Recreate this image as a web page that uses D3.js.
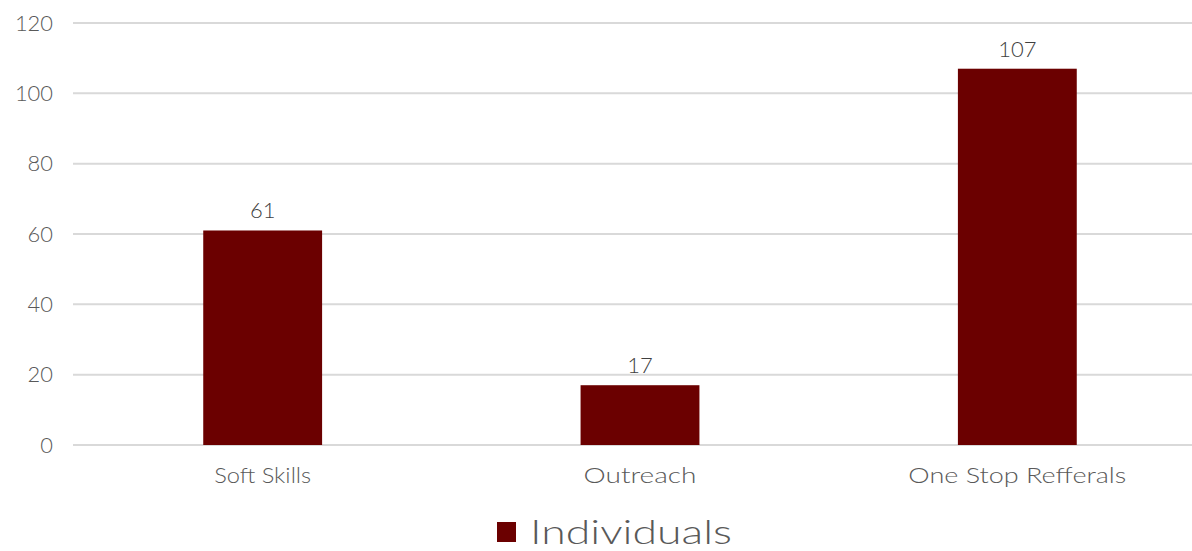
<!DOCTYPE html>
<html><head><meta charset="utf-8">
<script src="https://cdn.jsdelivr.net/npm/d3@7"></script>
<style>body{margin:0;background:#fff}svg{display:block}</style>
</head><body>
<svg id="c" width="1192" height="551"></svg>
<script>
const categories = ["Soft Skills", "Outreach", "One Stop Refferals"];
const values = [61, 17, 107];
const seriesName = "Individuals";
const yTicks = [0, 20, 40, 60, 80, 100, 120];

// layout: rendered widths of the category labels (to mimic the wide geometric face)
const catLabelWidths = [97, 113, 218];
const legendLabelWidth = 202;

const svg = d3.select("#c");
const font = "Lato, 'Open Sans', sans-serif";
const textColor = "#595959";
const barColor = "#6B0000";

const x = d3.scaleBand().domain(categories).range([74, 1206]).paddingInner(0.685).paddingOuter(0.3425);
const y = d3.scaleLinear().domain([0, 120]).range([445, 23]);

// gridlines
svg.append("g").selectAll("line").data(yTicks).join("line")
  .attr("x1", 73).attr("x2", 1192)
  .attr("y1", d => y(d)).attr("y2", d => y(d))
  .attr("stroke", "#d9d9d9").attr("stroke-width", 2);

// y axis labels
const yAxis = svg.append("g").attr("transform", "translate(53,0)")
  .call(d3.axisLeft(y).tickValues(yTicks).tickSize(0).tickPadding(0));
yAxis.select(".domain").remove();
yAxis.selectAll("text").attr("font-family", font).attr("font-size", 22).attr("fill", textColor).attr("font-weight", 300)
  .attr("textLength", d => String(d).length * 12.7).attr("lengthAdjust", "spacingAndGlyphs");

// bars
svg.append("g").selectAll("rect").data(values).join("rect")
  .attr("x", (d, i) => x(categories[i]))
  .attr("width", x.bandwidth())
  .attr("y", d => y(d))
  .attr("height", d => y(0) - y(d))
  .attr("fill", barColor);

// value labels
svg.append("g").selectAll("text").data(values).join("text")
  .attr("x", (d, i) => x(categories[i]) + x.bandwidth() / 2)
  .attr("y", d => y(d) - 12)
  .attr("text-anchor", "middle")
  .attr("font-family", font).attr("font-size", 22).attr("font-weight", 300)
  .attr("fill", "#404040")
  .text(d => d);

// x axis labels
const xAxis = svg.append("g").attr("transform", "translate(0,445)")
  .call(d3.axisBottom(x).tickSize(0).tickPadding(22));
xAxis.select(".domain").remove();
xAxis.selectAll("text").attr("font-family", font).attr("font-size", 22).attr("fill", textColor).attr("font-weight", 300)
  .attr("textLength", (d, i) => catLabelWidths[i]).attr("lengthAdjust", "spacingAndGlyphs");

// legend
const lg = svg.append("g");
lg.append("rect").attr("x", 497).attr("y", 522).attr("width", 19).attr("height", 20).attr("fill", barColor);
lg.append("text").attr("x", 530).attr("y", 544)
  .attr("font-family", font).attr("font-size", 34).attr("font-weight", 300)
  .attr("fill", textColor)
  .attr("textLength", legendLabelWidth).attr("lengthAdjust", "spacingAndGlyphs")
  .text(seriesName);
</script>
</body></html>
